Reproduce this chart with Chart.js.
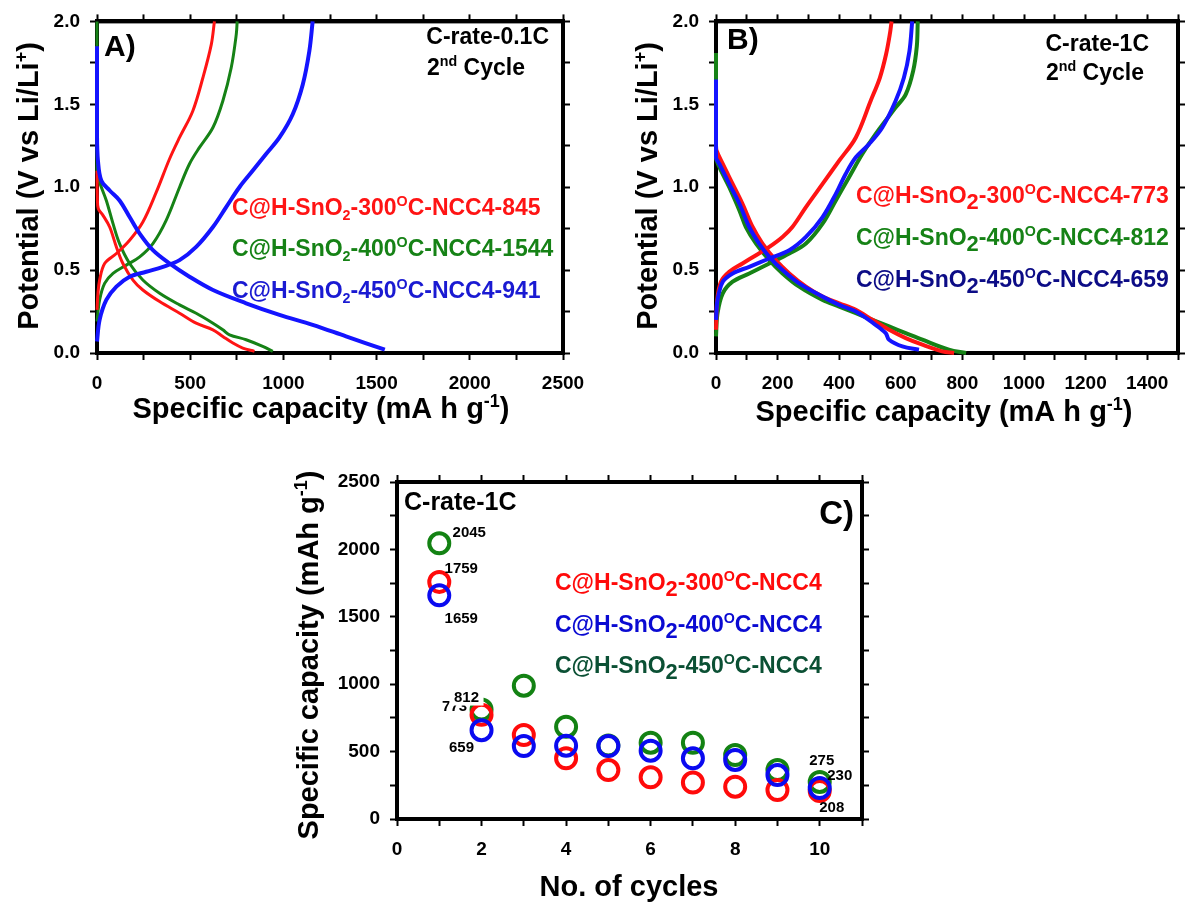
<!DOCTYPE html>
<html>
<head>
<meta charset="utf-8">
<script src="https://cdn.jsdelivr.net/npm/chart.js@4.4.1/dist/chart.umd.min.js"></script>
<style>
  html, body { margin: 0; padding: 0; background: #fff; }
  #wrap { position: relative; width: 1190px; height: 905px; overflow: hidden; }
  #wrap canvas { position: absolute; left: 0; top: 0; }
</style>
</head>
<body>
<div id="wrap">
  <canvas id="chartA" width="1190" height="905"></canvas>
  <canvas id="chartB" width="1190" height="905"></canvas>
  <canvas id="chartC" width="1190" height="905"></canvas>
</div>
<script>
// data: [capacity, potential] pairs

// panel A, C-rate 0.1C
const a300Charge = [[0,0.26],[5,0.36],[14,0.44],[41,0.54],[104,0.6],[175,0.68],[246,0.79],[318,0.97],[389,1.17],[443,1.3],[514,1.46],[568,1.66],[613,1.86],[630,2.0]];
const a300Discharge = [[0,1.1],[2,0.94],[7,0.87],[32,0.83],[68,0.76],[104,0.64],[139,0.54],[193,0.44],[246,0.38],[336,0.31],[443,0.24],[532,0.18],[622,0.14],[675,0.1],[729,0.06],[782,0.03],[845,0.01]];
const a400Charge = [[0,0.19],[14,0.32],[41,0.42],[86,0.48],[157,0.53],[229,0.58],[300,0.66],[371,0.8],[443,1.0],[496,1.14],[550,1.24],[622,1.36],[675,1.52],[720,1.72],[747,1.92],[752,2.0]];
const a400Discharge = [[0,2.0],[0,1.1],[14,1.03],[50,0.92],[86,0.78],[121,0.66],[175,0.54],[246,0.44],[336,0.36],[443,0.29],[532,0.24],[622,0.18],[675,0.14],[711,0.11],[800,0.08],[889,0.04],[943,0.01]];
const a450Charge = [[0,0.07],[14,0.2],[50,0.32],[104,0.4],[175,0.46],[264,0.49],[354,0.52],[443,0.56],[532,0.64],[622,0.76],[693,0.88],[764,1.0],[836,1.1],[907,1.2],[979,1.3],[1050,1.44],[1104,1.62],[1139,1.82],[1157,2.0]];
const a450Discharge = [[0,1.85],[0,1.32],[5,1.16],[23,1.04],[68,0.98],[121,0.92],[175,0.82],[229,0.72],[300,0.62],[389,0.54],[496,0.46],[622,0.38],[800,0.3],[979,0.23],[1157,0.17],[1336,0.1],[1544,0.02]];

// panel B, C-rate 1C
const b300Charge = [[0,0.14],[4,0.32],[16,0.43],[43,0.49],[86,0.54],[130,0.59],[173,0.64],[216,0.7],[248,0.76],[292,0.88],[346,1.02],[400,1.16],[454,1.3],[502,1.52],[532,1.66],[552,1.8],[565,1.93],[570,2.0]];
const b300Discharge = [[0,1.25],[2,1.22],[22,1.14],[54,1.02],[86,0.9],[119,0.76],[151,0.66],[194,0.56],[238,0.48],[292,0.4],[346,0.34],[400,0.3],[454,0.26],[508,0.2],[562,0.14],[616,0.09],[670,0.05],[734,0.01],[773,0.0]];
const b400Charge = [[0,0.1],[5,0.24],[22,0.36],[54,0.43],[108,0.48],[173,0.54],[238,0.6],[292,0.66],[346,0.78],[389,0.92],[432,1.06],[475,1.2],[518,1.32],[583,1.48],[616,1.56],[640,1.7],[652,1.85],[655,2.0]];
const b400Discharge = [[0,1.81],[0,1.18],[11,1.12],[43,1.0],[76,0.86],[97,0.76],[130,0.66],[173,0.56],[216,0.48],[270,0.4],[346,0.32],[400,0.28],[454,0.24],[508,0.2],[562,0.16],[616,0.12],[670,0.08],[756,0.02],[812,0.0]];
const b450Charge = [[0,0.2],[5,0.32],[22,0.43],[54,0.48],[108,0.52],[173,0.57],[238,0.62],[292,0.7],[346,0.82],[389,0.96],[421,1.08],[454,1.18],[497,1.26],[540,1.36],[583,1.52],[610,1.66],[628,1.82],[637,2.0]];
const b450Discharge = [[0,1.65],[0,1.18],[11,1.14],[43,1.02],[76,0.9],[108,0.76],[140,0.66],[173,0.58],[216,0.5],[270,0.42],[346,0.34],[400,0.29],[454,0.25],[518,0.17],[551,0.12],[562,0.08],[605,0.04],[659,0.02]];

// panel C, cycling at 1C
const cycles = [1, 2, 3, 4, 5, 6, 7, 8, 9, 10];
const cap300 = [1759, 773, 623, 450, 363, 309, 270, 240, 215, 208];
const cap400 = [1659, 659, 541, 544, 541, 507, 450, 438, 326, 230];
const cap450 = [2045, 812, 989, 685, 545, 566, 566, 475, 363, 275];

// colours
const RED = "#ff1414";
const GREEN = "#168216";
const BLUE = "#1414ff";
const FONT = '"Liberation Sans", Arial, Helvetica, sans-serif';

function fontOf(size) {
  return "bold " + size + "px " + FONT;
}

// text with sub/superscripts: parts = [[text, kind], ...]
function drawRich(ctx, x, y, parts, size, color, align) {
  const specs = parts.map(([t, kind]) => {
    let s = size, dy = 0;
    if (kind === "sup") { s = size * 0.62; dy = -size * 0.4; }
    if (kind === "sub") { s = size * 0.62; dy = size * 0.22; }
    if (kind === "low") { s = size * 0.95; dy = size * 0.25; }
    ctx.font = fontOf(s);
    return { t, s, dy, w: ctx.measureText(t).width };
  });
  const total = specs.reduce((a, b) => a + b.w, 0);
  let cx = x;
  if (align === "right") cx = x - total;
  if (align === "center") cx = x - total / 2;
  ctx.fillStyle = color;
  ctx.textAlign = "left";
  ctx.textBaseline = "alphabetic";
  const base = y + size * 0.36;
  for (const sp of specs) {
    ctx.font = fontOf(sp.s);
    ctx.fillText(sp.t, cx, base + sp.dy);
    cx += sp.w;
  }
}

function drawRotated(ctx, x, y, parts, size) {
  ctx.save();
  ctx.translate(x, y);
  ctx.rotate(-Math.PI / 2);
  drawRich(ctx, 0, 0, parts, size, "#000", "center");
  ctx.restore();
}

function isMultiple(v, step) {
  return Math.abs(v / step - Math.round(v / step)) < 1e-6;
}

// four framed axes, ticks outside, fixed box sizes
function frameScales(xMax, xStep, xLabel, yMax, yStep, yLabel, yFmt, xFmt) {
  const grid = { drawOnChartArea: false, tickLength: 7, tickWidth: 2, tickColor: "#000", color: "#000" };
  const border = { width: 4, color: "#000" };
  const tickFont = { family: FONT, size: 19, weight: "bold" };
  return {
    x: {
      type: "linear", position: "bottom", min: 0, max: xMax,
      grid, border,
      ticks: {
        stepSize: xStep, color: "#000", font: tickFont, padding: 12, maxRotation: 0, autoSkip: false,
        callback: (v) => (isMultiple(v, xLabel) && (!xFmt || xFmt(v) !== null) ? (xFmt ? xFmt(v) : String(v)) : "")
      },
      afterFit: (s) => { s.height = 60; }
    },
    x2: {
      type: "linear", position: "top", min: 0, max: xMax,
      grid, border,
      ticks: { stepSize: xStep, display: false },
      afterFit: (s) => { s.height = 19; }
    },
    y: {
      type: "linear", position: "left", min: 0, max: yMax,
      grid, border,
      ticks: {
        stepSize: yStep, color: "#000", font: tickFont, padding: 10, autoSkip: false,
        callback: (v) => (isMultiple(v, yLabel) ? yFmt(v) : "")
      },
      afterFit: (s) => { s.width = 97; }
    },
    y2: {
      type: "linear", position: "right", min: 0, max: yMax,
      grid, border,
      ticks: { stepSize: yStep, display: false },
      afterFit: (s) => { s.width = 12; }
    }
  };
}

function curve(points, color, width) {
  return {
    data: points.map(([x, y]) => ({ x, y })),
    showLine: true,
    borderColor: color,
    borderWidth: width,
    pointRadius: 0,
    tension: 0.35,
    clip: 4,
    fill: false
  };
}

const framePlugin = {
  id: "frame",
  beforeDatasetsDraw(chart) {
    const { ctx, chartArea: a } = chart;
    ctx.save();
    ctx.strokeStyle = "#000";
    ctx.lineWidth = 4;
    ctx.strokeRect(a.left, a.top, a.right - a.left, a.bottom - a.top);
    ctx.restore();
  }
};

const baseOptions = {
  responsive: false,
  animation: false,
  events: [],
  plugins: { legend: { display: false }, tooltip: { enabled: false } }
};

const capTitle = [["Specific capacity (mA h g", ""], ["-1", "sup"], [")", ""]];
const potTitle = [["Potential (V vs Li/Li", ""], ["+", "sup"], [")", ""]];

// panel A
new Chart(document.getElementById("chartA"), {
  type: "scatter",
  data: {
    datasets: [
      curve(a450Discharge, BLUE, 4), curve(a450Charge, BLUE, 4),
      curve(a300Discharge, RED, 3), curve(a300Charge, RED, 3),
      curve(a400Discharge, GREEN, 3), curve(a400Charge, GREEN, 3)
    ]
  },
  options: Object.assign({}, baseOptions, {
    layout: { padding: { left: 0, top: 0, right: 1190 - 563 - 12, bottom: 905 - 353 - 60 } },
    scales: frameScales(2500, 250, 500, 2, 0.25, 0.5, (v) => v.toFixed(1))
  }),
  plugins: [framePlugin, {
    id: "textA",
    afterDraw(chart) {
      const ctx = chart.ctx;
      drawRich(ctx, 104, 45, [["A)", ""]], 30, "#000", "left");
      drawRich(ctx, 549, 36, [["C-rate-0.1C", ""]], 23, "#000", "right");
      drawRich(ctx, 427, 67, [["2", ""], ["nd", "sup"], [" Cycle", ""]], 23, "#000", "left");
      drawRich(ctx, 232, 207, [["C@H-SnO", ""], ["2", "sub"], ["-300", ""], ["O", "sup"], ["C-NCC4-845", ""]], 23, RED, "left");
      drawRich(ctx, 232, 248, [["C@H-SnO", ""], ["2", "sub"], ["-400", ""], ["O", "sup"], ["C-NCC4-1544", ""]], 23, GREEN, "left");
      drawRich(ctx, 232, 290, [["C@H-SnO", ""], ["2", "sub"], ["-450", ""], ["O", "sup"], ["C-NCC4-941", ""]], 23, "#1a1ad2", "left");
      drawRich(ctx, 321, 408, capTitle, 29, "#000", "center");
      drawRotated(ctx, 28, 186, potTitle, 29);
    }
  }]
});

// panel B
new Chart(document.getElementById("chartB"), {
  type: "scatter",
  data: {
    datasets: [
      curve(b450Discharge, BLUE, 4), curve(b450Charge, BLUE, 4),
      curve(b300Discharge, RED, 4), curve(b300Charge, RED, 4),
      curve(b400Discharge, GREEN, 4), curve(b400Charge, GREEN, 4)
    ]
  },
  options: Object.assign({}, baseOptions, {
    layout: { padding: { left: 716 - 97, top: 0, right: 1190 - 1181 - 9, bottom: 905 - 353 - 60 } },
    scales: (() => {
      const s = frameScales(1500, 100, 200, 2, 0.25, 0.5, (v) => v.toFixed(1), (v) => (v <= 1400 ? String(v) : null));
      s.y2.afterFit = (sc) => { sc.width = 9; };
      return s;
    })()
  }),
  plugins: [framePlugin, {
    id: "textB",
    afterDraw(chart) {
      const ctx = chart.ctx;
      drawRich(ctx, 727, 38, [["B)", ""]], 30, "#000", "left");
      drawRich(ctx, 1149, 43, [["C-rate-1C", ""]], 23, "#000", "right");
      drawRich(ctx, 1046, 72, [["2", ""], ["nd", "sup"], [" Cycle", ""]], 23, "#000", "left");
      drawRich(ctx, 856, 195, [["C@H-SnO", ""], ["2", "low"], ["-300", ""], ["O", "sup"], ["C-NCC4-773", ""]], 23, RED, "left");
      drawRich(ctx, 856, 237, [["C@H-SnO", ""], ["2", "low"], ["-400", ""], ["O", "sup"], ["C-NCC4-812", ""]], 23, GREEN, "left");
      drawRich(ctx, 856, 279, [["C@H-SnO", ""], ["2", "low"], ["-450", ""], ["O", "sup"], ["C-NCC4-659", ""]], 23, "#0c0c86", "left");
      drawRich(ctx, 944, 411, capTitle, 29, "#000", "center");
      drawRotated(ctx, 647, 186, potTitle, 29);
    }
  }]
});

// panel C
function rings(values, color) {
  return {
    data: cycles.map((c, i) => ({ x: c, y: values[i] })),
    showLine: false,
    pointStyle: "circle",
    pointRadius: 10,
    pointBorderWidth: 4,
    borderColor: color,
    pointBorderColor: color,
    pointBackgroundColor: "rgba(0,0,0,0)",
    backgroundColor: "rgba(0,0,0,0)",
    clip: false
  };
}

const chartC = new Chart(document.getElementById("chartC"), {
  type: "scatter",
  data: {
    datasets: [
      rings(cap400, "#0a0af0"),
      rings(cap300, "#ff0a0a"),
      rings(cap450, "#138213")
    ]
  },
  options: Object.assign({}, baseOptions, {
    layout: { padding: { left: 397 - 97, top: 482 - 19, right: 1190 - 862 - 12, bottom: 905 - 819 - 60 } },
    scales: frameScales(11, 1, 2, 2500, 250, 500, (v) => String(v), (v) => (v <= 10 ? String(v) : null))
  }),
  plugins: [framePlugin, {
    id: "textC",
    afterDraw(chart) {
      const ctx = chart.ctx;
      const xs = chart.scales.x, ys = chart.scales.y;
      const at = (i, vals) => [xs.getPixelForValue(cycles[i]), ys.getPixelForValue(vals[i])];
      const label = (i, vals, dx, dy, text, box) => {
        const [px, py] = at(i, vals);
        if (box) {
          ctx.fillStyle = "#fff";
          ctx.fillRect(px + dx - 17, py + dy - 11, 34, 20);
        }
        drawRich(ctx, px + dx, py + dy, [[text, ""]], 15, "#000", "center");
      };
      label(0, cap450, 30, -12, String(cap450[0]));
      label(0, cap300, 22, -14, String(cap300[0]));
      label(0, cap400, 22, 22, String(cap400[0]));
      label(1, cap300, -27, -9, String(cap300[1]));
      label(1, cap450, -15, -13, String(cap450[1]), true);
      label(1, cap400, -20, 16, String(cap400[1]));
      label(9, cap450, 2, -22, String(cap450[9]));
      label(9, cap400, 20, -13, String(cap400[9]));
      label(9, cap300, 12, 16, String(cap300[9]));

      drawRich(ctx, 404, 501, [["C-rate-1C", ""]], 25, "#000", "left");
      drawRich(ctx, 854, 512, [["C)", ""]], 33, "#000", "right");
      drawRich(ctx, 555, 582, [["C@H-SnO", ""], ["2", "low"], ["-300", ""], ["O", "sup"], ["C-NCC4", ""]], 23, "#ff0a0a", "left");
      drawRich(ctx, 555, 624, [["C@H-SnO", ""], ["2", "low"], ["-400", ""], ["O", "sup"], ["C-NCC4", ""]], 23, "#0a0ad2", "left");
      drawRich(ctx, 555, 665, [["C@H-SnO", ""], ["2", "low"], ["-450", ""], ["O", "sup"], ["C-NCC4", ""]], 23, "#0b5034", "left");
      drawRich(ctx, 629, 886, [["No. of cycles", ""]], 29, "#000", "center");
      drawRotated(ctx, 308, 655, [["Specific capacity (mAh g", ""], ["-1", "sup"], [")", ""]], 29);
    }
  }]
});
</script>
</body>
</html>
